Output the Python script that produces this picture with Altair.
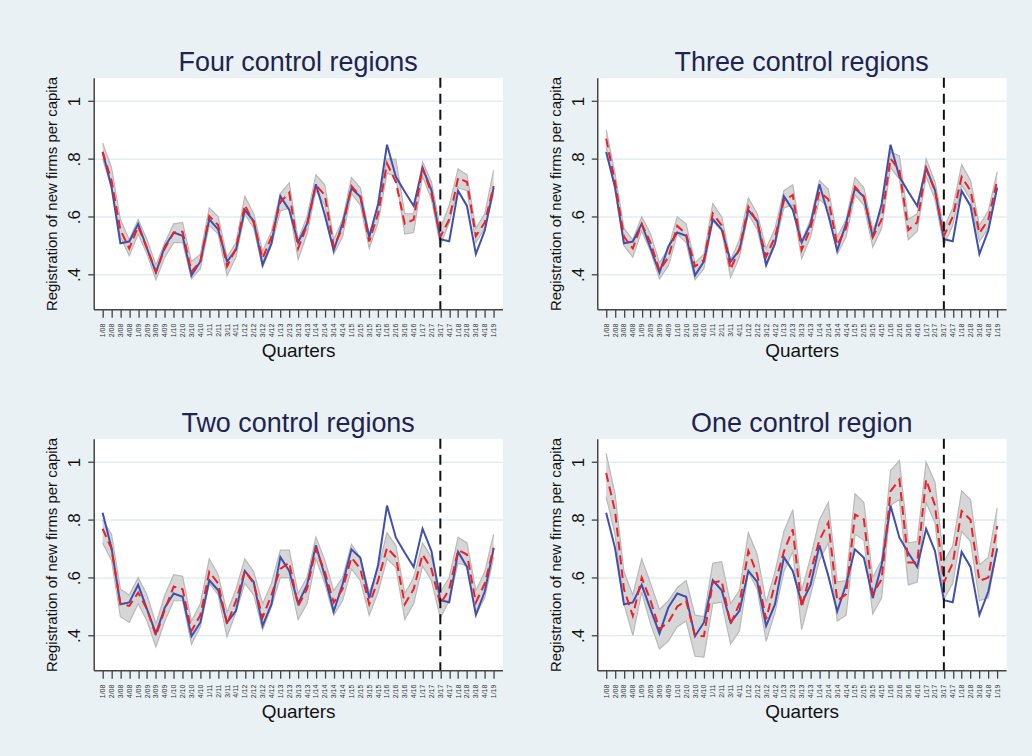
import altair as alt
import pandas as pd

# Quarter labels, 2008Q1 .. 2019Q1
QUARTERS = [
    "1/08", "2/08", "3/08", "4/08", "1/09", "2/09", "3/09", "4/09",
    "1/10", "2/10", "3/10", "4/10", "1/11", "2/11", "3/11", "4/11",
    "1/12", "2/12", "3/12", "4/12", "1/13", "2/13", "3/13", "4/13",
    "1/14", "2/14", "3/14", "4/14", "1/15", "2/15", "3/15", "4/15",
    "1/16", "2/16", "3/16", "4/16", "1/17", "2/17", "3/17", "4/17",
    "1/18", "2/18", "3/18", "4/18", "1/19",
]
TREATMENT = "3/17"

# Observed region (same in every panel)
ACTUAL = [
    0.824, 0.703, 0.508, 0.514, 0.575, 0.490, 0.407, 0.497,
    0.545, 0.534, 0.397, 0.445, 0.591, 0.556, 0.445, 0.485,
    0.623, 0.585, 0.433, 0.508, 0.671, 0.623, 0.511, 0.575,
    0.712, 0.606, 0.483, 0.577, 0.698, 0.669, 0.529, 0.644,
    0.849, 0.738, 0.686, 0.637, 0.769, 0.692, 0.522, 0.515,
    0.689, 0.637, 0.471, 0.552, 0.701,
]

# Synthetic control and its band: four control regions
SYN_4 = [
    0.824, 0.725, 0.554, 0.490, 0.566, 0.490, 0.410, 0.490,
    0.545, 0.548, 0.410, 0.445, 0.602, 0.571, 0.428, 0.490,
    0.640, 0.580, 0.456, 0.530, 0.650, 0.683, 0.490, 0.570,
    0.709, 0.675, 0.497, 0.560, 0.706, 0.670, 0.514, 0.610,
    0.784, 0.720, 0.575, 0.590, 0.769, 0.680, 0.530, 0.590,
    0.734, 0.720, 0.533, 0.580, 0.706,
]
LO_4 = [
    0.800, 0.700, 0.530, 0.465, 0.540, 0.470, 0.382, 0.460,
    0.510, 0.510, 0.385, 0.420, 0.570, 0.540, 0.395, 0.460,
    0.610, 0.560, 0.425, 0.500, 0.620, 0.630, 0.452, 0.540,
    0.690, 0.640, 0.470, 0.530, 0.680, 0.640, 0.490, 0.580,
    0.750, 0.740, 0.540, 0.545, 0.740, 0.660, 0.500, 0.580,
    0.700, 0.690, 0.510, 0.560, 0.680,
]
HI_4 = [
    0.855, 0.770, 0.590, 0.520, 0.590, 0.520, 0.433, 0.510,
    0.575, 0.580, 0.445, 0.470, 0.630, 0.600, 0.460, 0.510,
    0.670, 0.610, 0.480, 0.550, 0.680, 0.717, 0.520, 0.600,
    0.745, 0.710, 0.520, 0.590, 0.735, 0.700, 0.540, 0.640,
    0.800, 0.798, 0.611, 0.610, 0.790, 0.720, 0.560, 0.640,
    0.765, 0.745, 0.560, 0.610, 0.760,
]

# Three control regions
SYN_3 = [
    0.870, 0.720, 0.531, 0.490, 0.575, 0.510, 0.414, 0.460,
    0.568, 0.540, 0.428, 0.450, 0.611, 0.570, 0.418, 0.490,
    0.634, 0.580, 0.462, 0.530, 0.655, 0.675, 0.485, 0.560,
    0.686, 0.660, 0.502, 0.560, 0.703, 0.670, 0.529, 0.590,
    0.801, 0.760, 0.554, 0.580, 0.767, 0.690, 0.533, 0.600,
    0.738, 0.690, 0.543, 0.590, 0.726,
]
LO_3 = [
    0.840, 0.690, 0.500, 0.460, 0.550, 0.480, 0.385, 0.430,
    0.540, 0.510, 0.382, 0.420, 0.585, 0.550, 0.390, 0.460,
    0.610, 0.555, 0.430, 0.500, 0.630, 0.640, 0.455, 0.530,
    0.660, 0.630, 0.470, 0.530, 0.675, 0.640, 0.495, 0.560,
    0.770, 0.730, 0.520, 0.550, 0.740, 0.660, 0.500, 0.570,
    0.710, 0.660, 0.515, 0.560, 0.700,
]
HI_3 = [
    0.900, 0.750, 0.560, 0.520, 0.600, 0.540, 0.440, 0.490,
    0.600, 0.575, 0.440, 0.470, 0.645, 0.600, 0.450, 0.520,
    0.665, 0.610, 0.490, 0.560, 0.690, 0.710, 0.515, 0.590,
    0.725, 0.695, 0.530, 0.590, 0.735, 0.700, 0.555, 0.620,
    0.824, 0.810, 0.590, 0.610, 0.800, 0.720, 0.560, 0.630,
    0.780, 0.725, 0.570, 0.620, 0.755,
]

# Two control regions
SYN_2 = [
    0.769, 0.700, 0.510, 0.502, 0.548, 0.490, 0.399, 0.490,
    0.569, 0.560, 0.416, 0.470, 0.620, 0.580, 0.439, 0.520,
    0.623, 0.580, 0.462, 0.540, 0.630, 0.652, 0.502, 0.560,
    0.700, 0.620, 0.514, 0.560, 0.669, 0.630, 0.508, 0.590,
    0.703, 0.670, 0.508, 0.560, 0.680, 0.630, 0.508, 0.560,
    0.695, 0.680, 0.514, 0.580, 0.703,
]
LO_2 = [
    0.720, 0.660, 0.465, 0.445, 0.510, 0.450, 0.360, 0.450,
    0.520, 0.520, 0.370, 0.430, 0.580, 0.540, 0.395, 0.480,
    0.580, 0.540, 0.420, 0.500, 0.600, 0.600, 0.455, 0.510,
    0.665, 0.580, 0.470, 0.520, 0.630, 0.590, 0.470, 0.550,
    0.665, 0.635, 0.455, 0.510, 0.640, 0.590, 0.460, 0.520,
    0.650, 0.640, 0.470, 0.530, 0.670,
]
HI_2 = [
    0.800, 0.750, 0.560, 0.540, 0.600, 0.540, 0.440, 0.540,
    0.610, 0.605, 0.450, 0.510, 0.665, 0.610, 0.480, 0.560,
    0.665, 0.620, 0.510, 0.580, 0.695, 0.695, 0.545, 0.600,
    0.740, 0.660, 0.555, 0.600, 0.715, 0.670, 0.550, 0.630,
    0.755, 0.710, 0.545, 0.600, 0.720, 0.670, 0.550, 0.600,
    0.740, 0.720, 0.555, 0.620, 0.750,
]

# One control region
SYN_1 = [
    0.962, 0.830, 0.560, 0.468, 0.600, 0.520, 0.422, 0.445,
    0.500, 0.520, 0.399, 0.397, 0.583, 0.589, 0.439, 0.510,
    0.692, 0.610, 0.456, 0.580, 0.690, 0.767, 0.497, 0.620,
    0.730, 0.790, 0.520, 0.543, 0.818, 0.801, 0.543, 0.594,
    0.899, 0.939, 0.652, 0.652, 0.939, 0.850, 0.583, 0.650,
    0.830, 0.800, 0.589, 0.600, 0.778,
]
LO_1 = [
    0.880, 0.750, 0.510, 0.400, 0.550, 0.440, 0.353, 0.380,
    0.430, 0.450, 0.328, 0.325, 0.510, 0.515, 0.370, 0.415,
    0.620, 0.560, 0.380, 0.480, 0.620, 0.690, 0.420, 0.540,
    0.660, 0.720, 0.450, 0.470, 0.750, 0.730, 0.475, 0.530,
    0.850, 0.870, 0.575, 0.585, 0.860, 0.790, 0.525, 0.580,
    0.760, 0.725, 0.520, 0.530, 0.700,
]
HI_1 = [
    1.030, 0.890, 0.620, 0.540, 0.665, 0.580, 0.490, 0.520,
    0.565, 0.590, 0.470, 0.465, 0.650, 0.655, 0.510, 0.555,
    0.755, 0.680, 0.515, 0.620, 0.760, 0.835, 0.555, 0.670,
    0.800, 0.860, 0.585, 0.590, 0.890, 0.860, 0.600, 0.660,
    0.970, 1.005, 0.720, 0.725, 1.000, 0.930, 0.655, 0.710,
    0.900, 0.870, 0.645, 0.670, 0.840,
]

BLUE = "#3f4fae"
RED = "#ee1f26"
BAND = "#d6d6d6"
BAND_EDGE = "#b8b8b8"
BG = "#eaf1f5"
FONT = "Liberation Sans"

Y_DOMAIN = [0.28, 1.08]
X_SORT = QUARTERS


def panel(title, syn, lo, hi):
    df = pd.DataFrame({
        "q": QUARTERS,
        "actual": ACTUAL,
        "synthetic": syn,
        "lo": lo,
        "hi": hi,
    })
    x = alt.X(
        "q:O",
        sort=X_SORT,
        scale=alt.Scale(type="point", padding=1.37),
        axis=alt.Axis(
            title="Quarters",
            labelAngle=270,
            labelFontSize=7,
            labelColor="#333333",
            labelPadding=6,
            tickSize=8,
            tickWidth=1.3,
            tickColor="#444444",
            domainColor="#444444",
            domainWidth=1.5,
            titleFontSize=19,
            titleFontWeight="normal",
            titleColor="#111111",
            titlePadding=5,
            grid=False,
        ),
    )
    y_axis = alt.Axis(
        title="Registration of new firms per capita",
        values=[0.4, 0.6, 0.8, 1.0],
        labelExpr="datum.value == 1 ? '1' : '.' + round(datum.value * 10)",
        labelAngle=270,
        labelFontSize=17,
        labelColor="#111111",
        labelPadding=4,
        tickSize=6,
        tickWidth=1.3,
        tickColor="#444444",
        domainColor="#444444",
        domainWidth=1.5,
        titleFontSize=15,
        titleFontWeight="normal",
        titleColor="#111111",
        titlePadding=6,
        grid=True,
        gridColor="#e2edf3",
        gridWidth=1.5,
    )
    ys = alt.Scale(domain=Y_DOMAIN, nice=False, zero=False)
    base = alt.Chart(df)

    band = base.mark_area(color=BAND, opacity=1).encode(
        x=x,
        y=alt.Y("lo:Q", scale=ys, axis=y_axis),
        y2="hi:Q",
    )
    band_lo = base.mark_line(color=BAND_EDGE, strokeWidth=1.2).encode(
        x=x, y=alt.Y("lo:Q", scale=ys)
    )
    band_hi = base.mark_line(color=BAND_EDGE, strokeWidth=1.2).encode(
        x=x, y=alt.Y("hi:Q", scale=ys)
    )
    actual = base.mark_line(color=BLUE, strokeWidth=2).encode(
        x=x, y=alt.Y("actual:Q", scale=ys)
    )
    synthetic = base.mark_line(
        color=RED, strokeWidth=2, strokeDash=[9, 5]
    ).encode(x=x, y=alt.Y("synthetic:Q", scale=ys))
    rule = alt.Chart(pd.DataFrame({"q": [TREATMENT]})).mark_rule(
        color="#111111", strokeWidth=2, strokeDash=[10, 6]
    ).encode(x=alt.X("q:O", sort=X_SORT))

    return alt.layer(band, band_lo, band_hi, actual, synthetic, rule).properties(
        width=410,
        height=232,
        title=alt.TitleParams(
            title,
            fontSize=27,
            fontWeight="normal",
            color="#1e2350",
            font=FONT,
            offset=-1,
            anchor="middle",
        ),
    )


p4 = panel("Four control regions", SYN_4, LO_4, HI_4)
p3 = panel("Three control regions", SYN_3, LO_3, HI_3)
p2 = panel("Two control regions", SYN_2, LO_2, HI_2)
p1 = panel("One control region", SYN_1, LO_1, HI_1)

chart = alt.vconcat(
    alt.hconcat(p4, p3, spacing=44),
    alt.hconcat(p2, p1, spacing=44),
    spacing=47,
).properties(
    background=BG,
    padding={"left": 44, "top": 47, "right": 25, "bottom": 32},
).configure(
    font=FONT,
).configure_view(
    fill="white",
    stroke="transparent",
)

chart.save("out.html", embed_options={"renderer": "svg", "actions": False})
